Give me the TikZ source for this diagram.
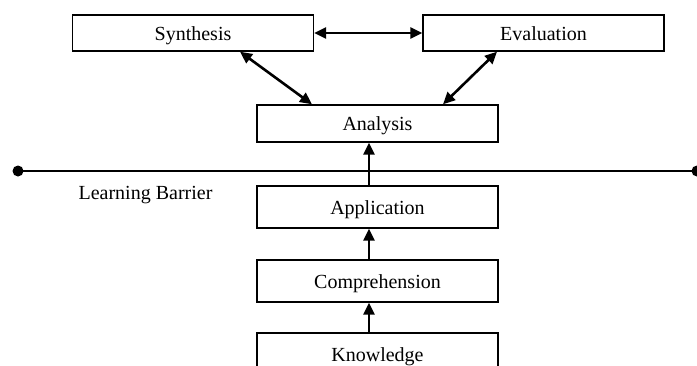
\documentclass[tikz,border=0pt]{standalone}
\usepackage{fontspec}
\setmainfont{Liberation Serif}
\usetikzlibrary{arrows.meta}
\begin{document}
\begin{tikzpicture}[x=1pt,y=-1pt,
  box/.style={draw, line width=1.4pt, minimum width=241pt, inner sep=0pt, text height=18pt, text depth=4pt, font=\fontsize{20}{20}\selectfont, anchor=center},
  con/.style={line width=2.6pt, -{Triangle[length=12pt,width=11pt]}},
  dcon/.style={line width=2.6pt, {Triangle[length=12pt,width=11pt]}-{Triangle[length=12pt,width=11pt]}}]
\useasboundingbox (0,0) rectangle (697,365);
\clip (0,0) rectangle (697,365);
\node[box, minimum height=36pt] (syn) at (193,33) {Synthesis};
\node[box, minimum height=36pt] (eva) at (543.5,33) {Evaluation};
\node[box, minimum height=37pt] (ana) at (377.5,123.5) {Analysis};
\node[box, minimum height=42pt] (app) at (377.5,207) {Application};
\node[box, minimum height=42pt] (com) at (377.5,281) {Comprehension};
\node[box, minimum height=42pt] (kno) at (377.5,354) {Knowledge};
\node[font=\fontsize{20}{20}\selectfont, anchor=base] (lb) at (145.5,199) {Learning Barrier};
\coordinate (l1) at (18,171);
\coordinate (l2) at (697,171);
\draw[line width=1.5pt] (l1) -- (l2);
\fill (l1) circle (5.5pt);
\fill (l2) circle (5.5pt);
\draw[dcon] (syn.east) -- (eva.west);
\draw[dcon] ([xshift=47]syn.south) -- ([xshift=-65.5]ana.north);
\draw[dcon] ([xshift=-46.5]eva.south) -- ([xshift=65.5]ana.north);
\draw[con] ([xshift=-8.5]app.north) -- ([xshift=-8.5]ana.south);
\draw[con] ([xshift=-8.5]com.north) -- ([xshift=-8.5]app.south);
\draw[con] ([xshift=-8.5]kno.north) -- ([xshift=-8.5]com.south);
\end{tikzpicture}
\end{document}
